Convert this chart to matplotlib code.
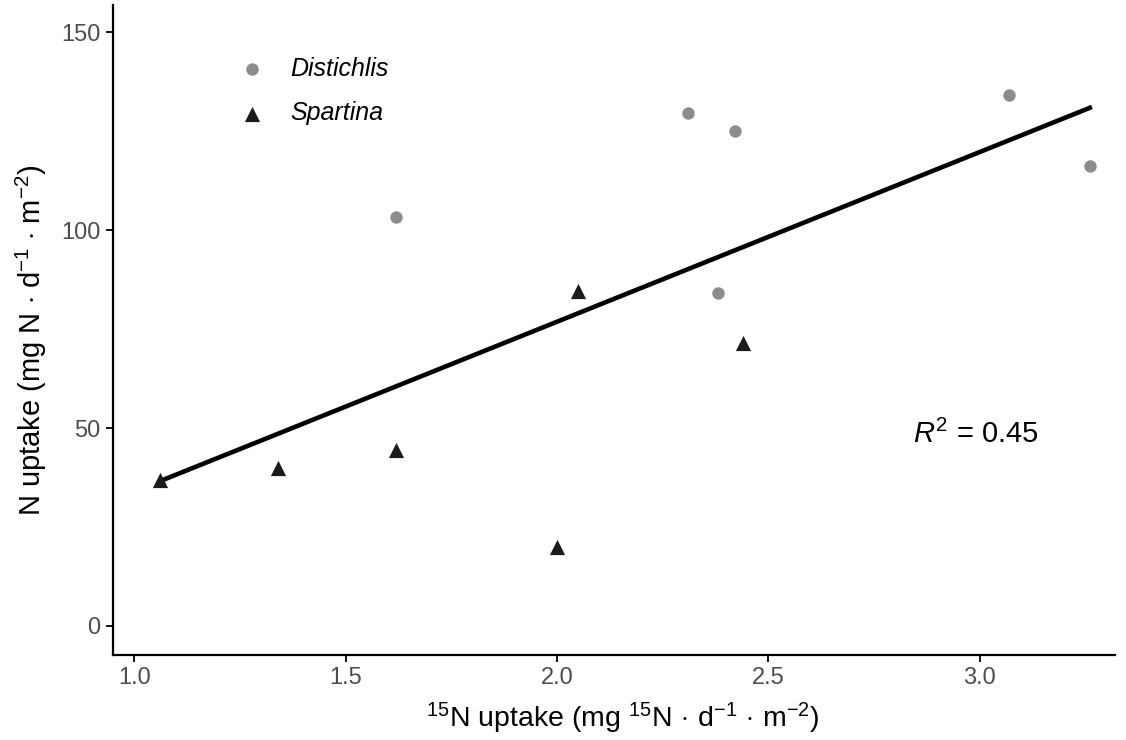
import numpy as np
import matplotlib
matplotlib.use("Agg")
from matplotlib import pyplot as plt

plt.rcParams['font.family'] = ['Liberation Sans', 'DejaVu Sans']
plt.rcParams['mathtext.fontset'] = 'custom'
plt.rcParams['mathtext.rm'] = 'Liberation Sans'
plt.rcParams['mathtext.it'] = 'Liberation Sans:italic'

# Distichlis points
dist_x = [1.62, 2.31, 2.42, 2.38, 3.07, 3.26]
dist_y = [103.2, 129.5, 125.0, 84.2, 134.0, 116.2]
# Spartina points
spar_x = [1.06, 1.34, 1.62, 2.00, 2.05, 2.44]
spar_y = [36.8, 40.0, 44.5, 20.0, 84.5, 71.6]

xticks = [1.0, 1.5, 2.0, 2.5, 3.0]
yticks = [0, 50, 100, 150]

all_x = np.array(dist_x + spar_x)
all_y = np.array(dist_y + spar_y)
slope, intercept = np.polyfit(all_x, all_y, 1)
line_x = np.array([all_x.min(), all_x.max()])

fig = plt.figure(figsize=(11.26, 7.4), dpi=100)
ax = fig.add_axes([0.1004, 0.115, 0.8896, 0.878])

ax.plot(line_x, slope * line_x + intercept, color='black', lw=3.3, zorder=2)
ax.scatter(dist_x, dist_y, s=80, color='#8c8c8c', marker='o', linewidths=0,
           label='Distichlis', zorder=3)
ax.scatter(spar_x, spar_y, s=120, color='#1a1a1a', marker='^', linewidths=0,
           label='Spartina', zorder=3)

ax.text(2.99, 48.5, '$R^2$ = 0.45', fontsize=21, ha='center', va='center')

ax.set_xlim(0.95, 3.319)
ax.set_ylim(-7.3, 156.8)
ax.set_xticks(xticks)
ax.set_xticklabels(['%.1f' % v for v in xticks])
ax.set_yticks(yticks)

for s in ['top', 'right']:
    ax.spines[s].set_visible(False)
for s in ['left', 'bottom']:
    ax.spines[s].set_linewidth(1.6)
ax.tick_params(axis='both', length=5, width=1.3, labelsize=17,
               labelcolor='#4d4d4d', color='black', pad=4)

ax.set_xlabel('$^{15}$N uptake (mg $^{15}$N$\\,\\cdot\\,$d$^{-1}\\,\\cdot\\,$m$^{-2}$)',
              fontsize=20.5)
ax.xaxis.set_label_coords(0.509, -0.071)
ax.set_ylabel('N uptake (mg N $\\cdot$ d$^{-1}$ $\\cdot$ m$^{-2}$)',
              fontsize=21)
ax.yaxis.set_label_coords(-0.064, 0.485)

leg = ax.legend(loc='upper left', bbox_to_anchor=(0.091, 0.955), frameon=False,
                prop={'style': 'italic', 'size': 18}, handletextpad=0.55,
                labelspacing=0.82)

fig.savefig('out.png', dpi=100)
